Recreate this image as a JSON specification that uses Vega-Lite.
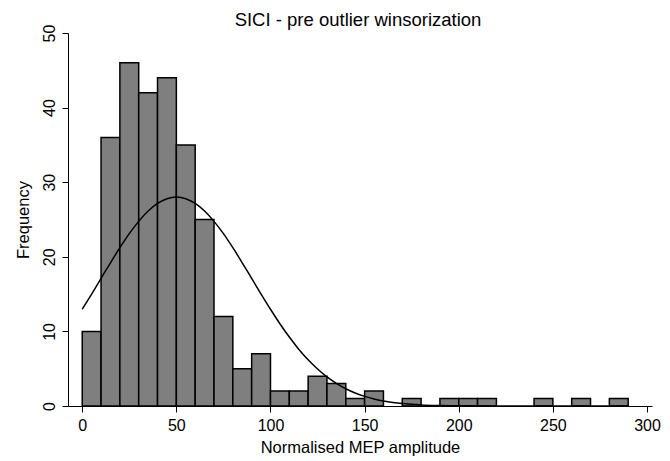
{
  "$schema": "https://vega.github.io/schema/vega-lite/v6.json",
  "width": 584,
  "height": 373,
  "autosize": {"type": "none"},
  "padding": {"left": 68, "top": 33, "right": 18, "bottom": 55},
  "background": "white",
  "config": {
    "view": {"stroke": null},
    "font": "Liberation Sans",
    "axis": {
      "grid": false,
      "domainColor": "black",
      "tickColor": "black",
      "labelColor": "black",
      "titleColor": "black",
      "labelFont": "Liberation Sans",
      "titleFont": "Liberation Sans",
      "labelFontSize": 16,
      "titleFontSize": 16.5,
      "titleFontWeight": "normal",
      "domainWidth": 1,
      "tickWidth": 1,
      "tickSize": 6
    }
  },
  "title": {
    "text": "SICI - pre outlier winsorization",
    "fontSize": 18.5,
    "fontWeight": "normal",
    "font": "Liberation Sans",
    "color": "black",
    "anchor": "middle",
    "offset": 4,
    "baseline": "bottom",
    "dy": 28,
    "dx": -2
  },
  "datasets": {
    "bins": [
      {"mep": 0, "mep_end": 10, "freq": 10},
      {"mep": 10, "mep_end": 20, "freq": 36},
      {"mep": 20, "mep_end": 30, "freq": 46},
      {"mep": 30, "mep_end": 40, "freq": 42},
      {"mep": 40, "mep_end": 50, "freq": 44},
      {"mep": 50, "mep_end": 60, "freq": 35},
      {"mep": 60, "mep_end": 70, "freq": 25},
      {"mep": 70, "mep_end": 80, "freq": 12},
      {"mep": 80, "mep_end": 90, "freq": 5},
      {"mep": 90, "mep_end": 100, "freq": 7},
      {"mep": 100, "mep_end": 110, "freq": 2},
      {"mep": 110, "mep_end": 120, "freq": 2},
      {"mep": 120, "mep_end": 130, "freq": 4},
      {"mep": 130, "mep_end": 140, "freq": 3},
      {"mep": 140, "mep_end": 150, "freq": 1},
      {"mep": 150, "mep_end": 160, "freq": 2},
      {"mep": 170, "mep_end": 180, "freq": 1},
      {"mep": 190, "mep_end": 200, "freq": 1},
      {"mep": 200, "mep_end": 210, "freq": 1},
      {"mep": 210, "mep_end": 220, "freq": 1},
      {"mep": 240, "mep_end": 250, "freq": 1},
      {"mep": 260, "mep_end": 270, "freq": 1},
      {"mep": 280, "mep_end": 290, "freq": 1}
    ],
    "curve": [
      {"mep": 0, "freq": 12.97},
      {"mep": 5, "freq": 15.01},
      {"mep": 10, "freq": 17.11},
      {"mep": 15, "freq": 19.2},
      {"mep": 20, "freq": 21.22},
      {"mep": 25, "freq": 23.1},
      {"mep": 30, "freq": 24.75},
      {"mep": 35, "freq": 26.13},
      {"mep": 40, "freq": 27.15},
      {"mep": 45, "freq": 27.78},
      {"mep": 50, "freq": 28.0},
      {"mep": 55, "freq": 27.78},
      {"mep": 60, "freq": 27.15},
      {"mep": 65, "freq": 26.13},
      {"mep": 70, "freq": 24.75},
      {"mep": 75, "freq": 23.1},
      {"mep": 80, "freq": 21.22},
      {"mep": 85, "freq": 19.2},
      {"mep": 90, "freq": 17.11},
      {"mep": 95, "freq": 15.01},
      {"mep": 100, "freq": 12.97},
      {"mep": 105, "freq": 11.03},
      {"mep": 110, "freq": 9.24},
      {"mep": 115, "freq": 7.62},
      {"mep": 120, "freq": 6.19},
      {"mep": 125, "freq": 4.96},
      {"mep": 130, "freq": 3.9},
      {"mep": 135, "freq": 3.03},
      {"mep": 140, "freq": 2.31},
      {"mep": 145, "freq": 1.74},
      {"mep": 150, "freq": 1.29},
      {"mep": 155, "freq": 0.94},
      {"mep": 160, "freq": 0.68},
      {"mep": 165, "freq": 0.48},
      {"mep": 170, "freq": 0.33},
      {"mep": 175, "freq": 0.23},
      {"mep": 180, "freq": 0.15},
      {"mep": 190, "freq": 0.07},
      {"mep": 200, "freq": 0.03},
      {"mep": 220, "freq": 0.0},
      {"mep": 250, "freq": 0.0},
      {"mep": 290, "freq": 0.0}
    ]
  },
  "layer": [
    {
      "data": {"name": "bins"},
      "mark": {"type": "bar", "fill": "#7f7f7f", "stroke": "black", "strokeWidth": 1.5, "cornerRadius": 0, "orient": "vertical"},
      "encoding": {
        "x": {
          "field": "mep",
          "type": "quantitative",
          "scale": {"domain": [-4.9, 300], "nice": false, "zero": false},
          "axis": {
            "values": [0, 50, 100, 150, 200, 250, 300],
            "title": "Normalised MEP amplitude",
            "labelPadding": 5,
            "titlePadding": 6,
            "labelFlush": false
          }
        },
        "x2": {"field": "mep_end"},
        "y": {
          "field": "freq",
          "type": "quantitative",
          "scale": {"domain": [0, 50], "nice": false},
          "axis": {
            "values": [0, 10, 20, 30, 40, 50],
            "title": "Frequency",
            "labelAngle": -90,
            "labelAlign": "center",
            "labelBaseline": "alphabetic",
            "labelPadding": 8,
            "titlePadding": 10,
            "labelFlush": false
          }
        },
        "y2": {"datum": 0}
      }
    },
    {
      "data": {"name": "curve"},
      "mark": {"type": "line", "color": "black", "strokeWidth": 1.5, "interpolate": "monotone"},
      "encoding": {
        "x": {"field": "mep", "type": "quantitative"},
        "y": {"field": "freq", "type": "quantitative"}
      }
    }
  ]
}
